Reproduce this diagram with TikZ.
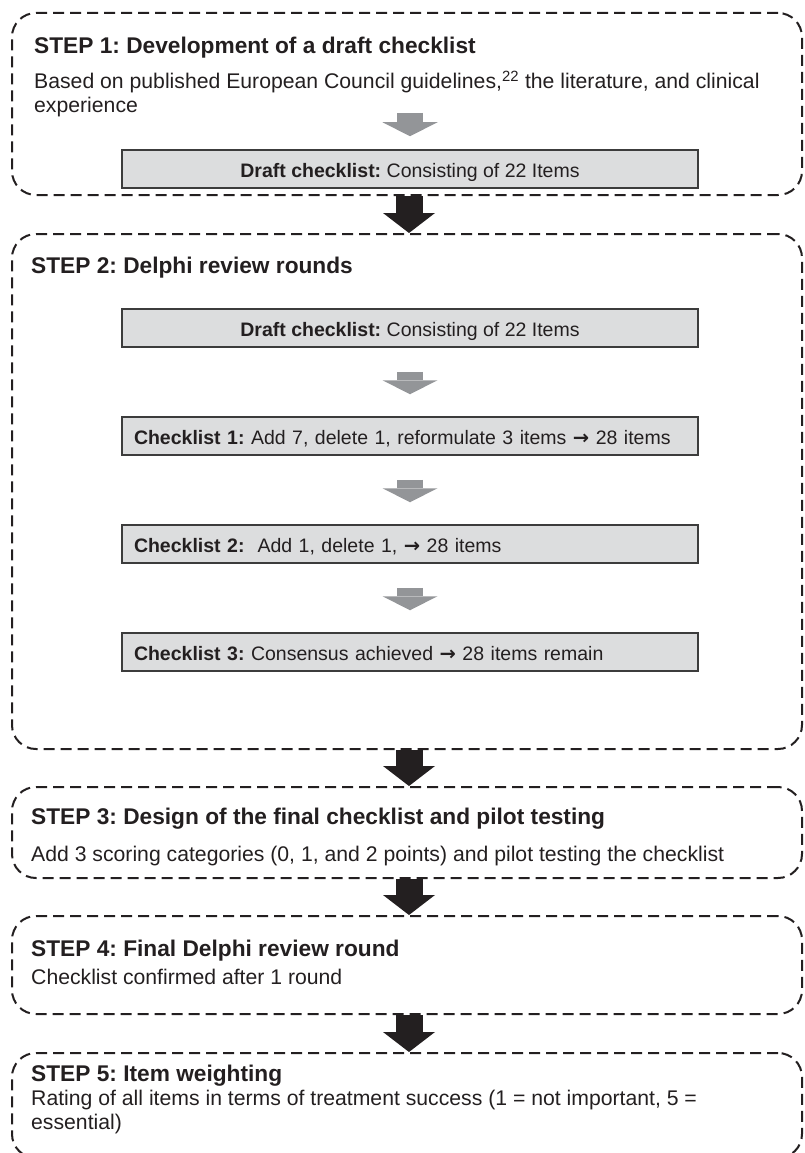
\documentclass[tikz,border=0pt]{standalone}
\usepackage{fontspec}
\setmainfont{Liberation Sans}
\newfontfamily\arrowfont{DejaVu Sans}
\usetikzlibrary{arrows.meta}
\definecolor{ink}{HTML}{231F20}
\definecolor{boxfill}{HTML}{DCDDDE}
\definecolor{boxline}{HTML}{3C3C3C}
\definecolor{arrowgray}{HTML}{939598}
\newcommand{\rarr}{{\arrowfont\bfseries →}}
\begin{document}
\frenchspacing
\begin{tikzpicture}[x=1pt,y=-1pt,
  stepframe/.style={draw=ink, line width=2pt, dash pattern=on 11pt off 6pt, rounded corners=24pt, inner sep=0pt},
  steptitle/.style={anchor=base west, inner sep=0pt, font=\fontsize{22.7}{27}\selectfont\bfseries, text=ink},
  steptext/.style={anchor=base west, inner sep=0pt, font=\fontsize{21.2}{24}\selectfont, text=ink},
  listbox/.style={draw=boxline, fill=boxfill, line width=1.5pt, minimum width=576pt, minimum height=38pt, inner sep=0pt, text height=17pt, text depth=1pt, font=\fontsize{19.5}{23}\selectfont, text=ink},
  leftbox/.style={listbox, text width=552pt, align=left, inner xsep=12pt},
  blockarrow/.style={draw=ink, line width=27pt, -{Triangle[length=20pt, width=52pt, line width=0pt]}},
  grayarrow/.style={draw=arrowgray, line width=26pt, -{Triangle[length=14pt, width=55pt, line width=0pt]}},
]
\useasboundingbox (0,0) rectangle (804,1153);

% step frames
\node[stepframe, minimum width=790pt, minimum height=182pt] (s1) at (407,104) {};
\node[stepframe, minimum width=790pt, minimum height=515pt] (s2) at (407,491.5) {};
\node[stepframe, minimum width=790pt, minimum height=91pt] (s3) at (407,832.5) {};
\node[stepframe, minimum width=790pt, minimum height=98pt] (s4) at (407,965) {};
\node[stepframe, minimum width=790pt, minimum height=105pt] (s5) at (407,1105.5) {};

% step 1
\node[steptitle] (t1) at (34,54) {STEP 1: Development of a draft checklist};
\node[steptext] (b1a) at (34,89) {Based on published European Council guidelines,\textsuperscript{22} the literature, and clinical};
\node[steptext] (b1b) at (34,113) {experience};
\coordinate (g1) at (410,113);
\node[listbox] (d1) at (410,169) {\textbf{Draft checklist:} Consisting of 22 Items};
\draw[grayarrow, shorten >=13pt] (g1) -- (d1.north);

% step 2
\node[steptitle] (t2) at (31,273) {STEP 2: Delphi review rounds};
\node[listbox] (d2) at (410,328) {\textbf{Draft checklist:} Consisting of 22 Items};
\node[leftbox] (c1) at (410,436) {\textbf{Checklist 1:} Add 7, delete 1, reformulate 3 items \rarr{} 28 items};
\node[leftbox] (c2) at (410,544) {\textbf{Checklist 2:}~~Add 1, delete 1, \rarr{} 28 items};
\node[leftbox] (c3) at (410,652) {\textbf{Checklist 3:} Consensus achieved \rarr{} 28 items remain};
\draw[grayarrow, shorten <=24pt, shorten >=22pt] (d2.south) -- (c1.north);
\draw[grayarrow, shorten <=24pt, shorten >=22pt] (c1.south) -- (c2.north);
\draw[grayarrow, shorten <=24pt, shorten >=22pt] (c2.south) -- (c3.north);

% step 3
\node[steptitle] (t3) at (31,824) {STEP 3: Design of the final checklist and pilot testing};
\node[steptext] (b3) at (31,861) {Add 3 scoring categories (0, 1, and 2 points) and pilot testing the checklist};

% step 4
\node[steptitle] (t4) at (31,956) {STEP 4: Final Delphi review round};
\node[steptext] (b4) at (31,984) {Checklist confirmed after 1 round};

% step 5
\node[steptitle] (t5) at (31,1081) {STEP 5: Item weighting};
\node[steptext] (b5a) at (31,1105) {Rating of all items in terms of treatment success (1 = not important, 5 =};
\node[steptext] (b5b) at (31,1129) {essential)};

% black arrows between steps
\draw[blockarrow] ([xshift=2pt]s1.south) -- ([xshift=2pt]s2.north);
\draw[blockarrow] ([xshift=2pt]s2.south) -- ([xshift=2pt]s3.north);
\draw[blockarrow] ([xshift=2pt]s3.south) -- ([xshift=2pt]s4.north);
\draw[blockarrow] ([xshift=2pt]s4.south) -- ([xshift=2pt]s5.north);
\end{tikzpicture}
\end{document}
